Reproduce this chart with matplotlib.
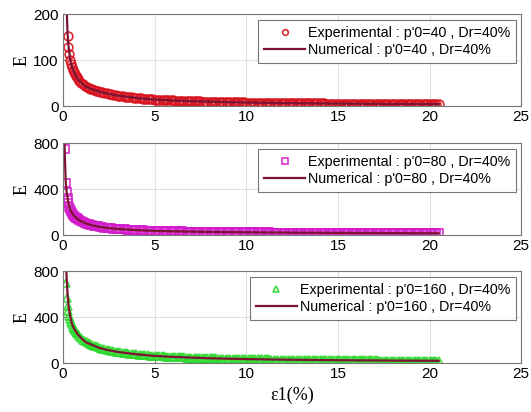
import matplotlib
matplotlib.use("Agg")
import matplotlib.pyplot as plt

# strain samples shared by every test beyond 2 %
strain_tail = [2.0, 2.125, 2.25, 2.375, 2.5, 2.625, 2.75, 2.875, 3.0, 3.125, 3.25, 3.375,
               3.5, 3.625, 3.75, 3.875, 4.0, 4.125, 4.25, 4.375, 4.5, 4.625, 4.75, 4.875,
               5.0, 5.125, 5.25, 5.375, 5.5, 5.625, 5.75, 5.875, 6.0, 6.125, 6.25, 6.375,
               6.5, 6.625, 6.75, 6.875, 7.0, 7.125, 7.25, 7.375, 7.5, 7.625, 7.75, 7.875,
               8.0, 8.125, 8.25, 8.375, 8.5, 8.625, 8.75, 8.875, 9.0, 9.125, 9.25, 9.375,
               9.5, 9.625, 9.75, 9.875, 10.0,
               10.125, 10.25, 10.375, 10.5, 10.625, 10.75, 10.875, 11.0, 11.125, 11.25,
               11.375, 11.5, 11.625, 11.75, 11.875, 12.0, 12.125, 12.25, 12.375, 12.5,
               12.625, 12.75, 12.875, 13.0, 13.125, 13.25, 13.375, 13.5, 13.625, 13.75,
               13.875, 14.0, 14.125, 14.25, 14.375, 14.5, 14.625, 14.75, 14.875, 15.0,
               15.125, 15.25, 15.375, 15.5, 15.625, 15.75, 15.875, 16.0, 16.125, 16.25,
               16.375, 16.5, 16.625, 16.75, 16.875, 17.0, 17.125, 17.25, 17.375, 17.5,
               17.625, 17.75, 17.875, 18.0, 18.125, 18.25, 18.375, 18.5, 18.625, 18.75,
               18.875, 19.0, 19.125, 19.25, 19.375, 19.5, 19.625, 19.75, 19.875, 20.0,
               20.125, 20.25, 20.375, 20.5]

# p'0 = 40
strain_exp_40 = [0.26, 0.3, 0.35, 0.4, 0.45, 0.5, 0.55, 0.6, 0.65, 0.7, 0.75, 0.8, 0.9,
                 1.0, 1.1, 1.2, 1.3, 1.4, 1.5, 1.6, 1.7, 1.8, 1.9] + strain_tail
E_exp_40 = [152, 128, 112, 100, 91, 84, 79, 74, 70, 66, 62.5, 59, 54,
            50, 47, 44, 41.5, 39.5, 37.5, 36, 34.5, 33, 32,
            31, 29.6, 28.4, 27.3, 26.2, 25.2, 24.3, 23.4, 22.6, 21.8, 21.1, 20.4,
            19.8, 19.2, 18.6, 18.0, 17.5, 17.0, 16.5, 16.0, 15.6, 15.2, 14.8, 14.4,
            14.0, 13.7, 13.4, 13.1, 12.9, 12.6, 12.4, 12.2, 12.0, 11.8, 11.6, 11.4,
            11.2, 11.0, 10.8, 10.6, 10.5, 10.3, 10.2, 10.0, 9.9, 9.7, 9.6, 9.4,
            9.3, 9.2, 9.1, 8.9, 8.8, 8.7, 8.6, 8.5, 8.4, 8.3, 8.2, 8.1,
            8.0, 7.9, 7.8, 7.7, 7.6,
            7.5, 7.4, 7.35, 7.3, 7.2, 7.1, 7.05, 7.0, 6.9, 6.8,
            6.75, 6.7, 6.65, 6.6, 6.5, 6.4, 6.35, 6.3, 6.25, 6.2,
            6.15, 6.1, 6.05, 6.0, 5.95, 5.9, 5.85, 5.8, 5.75, 5.7,
            5.65, 5.6, 5.55, 5.5, 5.45, 5.4, 5.38, 5.35, 5.32, 5.3,
            5.25, 5.2, 5.15, 5.1, 5.08, 5.05, 5.02, 5.0, 4.95, 4.9,
            4.88, 4.85, 4.82, 4.8, 4.75, 4.7, 4.68, 4.65, 4.62, 4.6,
            4.58, 4.55, 4.52, 4.5, 4.48, 4.45, 4.42, 4.4, 4.38, 4.35,
            4.32, 4.3, 4.28, 4.25, 4.22, 4.2, 4.18, 4.15, 4.12, 4.1,
            4.08, 4.05, 4.02, 4.0]
strain_num_40 = [0.2, 0.22, 0.25, 0.3, 0.4, 0.5, 0.6, 0.8, 1.0, 1.25, 1.5, 2, 2.5, 3,
                 4, 5, 6, 8, 10, 12, 14, 16, 18, 20, 20.5]
E_num_40 = [230, 190, 158, 130, 100, 84, 74, 59, 50, 42, 37.5, 31, 26.2, 22.6, 17.5, 14.0,
            12.0, 9.3, 7.6, 6.4, 5.6, 5.0, 4.5, 4.1, 4.0]

# p'0 = 80
strain_exp_80 = [0.1, 0.15, 0.2, 0.25, 0.3, 0.35, 0.4, 0.45, 0.5, 0.55, 0.6, 0.65, 0.7,
                 0.75, 0.8, 0.9, 1.0, 1.1, 1.2, 1.3, 1.4, 1.5, 1.6, 1.7, 1.8,
                 1.9] + strain_tail
E_exp_80 = [748, 452, 374, 322, 275, 245, 222, 205, 190, 178, 168, 159, 151,
            144, 138, 128, 119, 111, 104, 98, 93, 88, 84, 80, 77,
            74,
            71, 68, 65, 62.4, 60, 58, 56, 54.2, 52.5, 51, 49.5, 48.2,
            47, 45.7, 44.5, 43.5, 42.5, 41.5, 40.5, 39.6, 38.8, 38, 37.2, 36.5,
            35.8, 35.2, 34.7, 34.2, 33.7, 33.2, 32.8, 32.4, 32.0, 31.6, 31.2, 30.8,
            30.5, 30.1, 29.8, 29.4, 29.1, 28.8, 28.5, 28.2, 27.9, 27.6, 27.4, 27.1,
            26.9, 26.6, 26.4, 26.1, 25.9, 25.7, 25.5, 25.2, 25.0, 24.8, 24.6, 24.4,
            24.2, 24.0, 23.9, 23.7, 23.5,
            23.3, 23.1, 22.9, 22.8, 22.6, 22.5, 22.3, 22.2, 22.0, 21.9,
            21.7, 21.6, 21.4, 21.3, 21.1, 21.0, 20.9, 20.8, 20.6, 20.5,
            20.4, 20.3, 20.1, 20.0, 19.9, 19.8, 19.7, 19.6, 19.5, 19.4,
            19.3, 19.2, 19.1, 19.0, 18.9, 18.8, 18.7, 18.6, 18.5, 18.4,
            18.3, 18.2, 18.1, 18.0, 17.9, 17.8, 17.75, 17.7, 17.6, 17.5,
            17.4, 17.3, 17.25, 17.2, 17.1, 17.0, 16.95, 16.9, 16.8, 16.7,
            16.65, 16.6, 16.5, 16.4, 16.35, 16.3, 16.25, 16.2, 16.1, 16.0,
            15.95, 15.9, 15.85, 15.8, 15.75, 15.7, 15.6, 15.5, 15.45, 15.4,
            15.35, 15.3, 15.25, 15.2]
strain_num_80 = [0.08, 0.1, 0.15, 0.2, 0.3, 0.4, 0.5, 0.6, 0.8, 1.0, 1.25, 1.5, 2, 2.5,
                 3, 4, 5, 6, 8, 10, 12, 14, 16, 18, 20, 20.5]
E_num_80 = [820, 700, 460, 370, 275, 222, 190, 168, 138, 119, 101, 88, 71, 60, 52.5,
            42.5, 35.8, 32, 26.9, 23.5, 21, 19.2, 17.7, 16.4, 15.4, 15.2]

# p'0 = 160
strain_exp_160 = [0.15, 0.2, 0.25, 0.3, 0.35, 0.4, 0.45, 0.5, 0.55, 0.6, 0.65, 0.7, 0.75,
                  0.8, 0.9, 1.0, 1.1, 1.2, 1.3, 1.4, 1.5, 1.6, 1.7, 1.8,
                  1.9] + strain_tail
E_exp_160 = [696, 565, 500, 450, 410, 380, 356, 335, 316, 300, 285, 272, 260,
             250, 232, 216, 203, 191, 181, 172, 164, 157, 150, 144,
             139,
             130, 125, 120, 115.5, 111, 107, 103, 99.5, 96, 93, 90, 87.5,
             85, 82.5, 80, 78, 76, 74, 72, 70.2, 68.5, 66.7, 65, 63.5,
             62, 60.7, 59.5, 58.3, 57.2, 56.1, 55, 54, 53, 52.1, 51.2, 50.3,
             49.5, 48.7, 47.9, 47.1, 46.4, 45.7, 45, 44.3, 43.7, 43.1, 42.5, 41.9,
             41.3, 40.7, 40.2, 39.7, 39.2, 38.7, 38.2, 37.7, 37.3, 36.8, 36.4, 36.0,
             35.6, 35.2, 34.8, 34.4, 34.0,
             33.6, 33.3, 32.9, 32.6, 32.3, 32.0, 31.6, 31.3, 31.0, 30.7,
             30.4, 30.2, 29.9, 29.6, 29.3, 29.1, 28.8, 28.6, 28.3, 28.1,
             27.9, 27.7, 27.4, 27.2, 27.0, 26.8, 26.6, 26.4, 26.2, 26.0,
             25.8, 25.6, 25.4, 25.3, 25.1, 24.9, 24.7, 24.6, 24.4, 24.3,
             24.1, 24.0, 23.8, 23.7, 23.5, 23.4, 23.2, 23.1, 22.9, 22.8,
             22.7, 22.6, 22.4, 22.3, 22.2, 22.1, 21.9, 21.8, 21.7, 21.6,
             21.5, 21.4, 21.2, 21.1, 21.0, 20.9, 20.8, 20.7, 20.6, 20.5,
             20.4, 20.3, 20.2, 20.1, 20.0, 19.9, 19.8, 19.7, 19.6, 19.5,
             19.45, 19.4, 19.3, 19.2]
strain_num_160 = [0.18, 0.2, 0.25, 0.3, 0.4, 0.5, 0.6, 0.8, 1.0, 1.25, 1.5, 2, 2.5, 3,
                  4, 5, 6, 8, 10, 12, 14, 16, 18, 20, 20.5]
E_num_160 = [820, 740, 600, 500, 400, 335, 300, 250, 216, 180, 164, 130, 111, 96, 76,
             62, 53, 41.3, 34, 29.1, 25.6, 23.1, 21.1, 19.5, 19.2]

pressures = ["40", "80", "160"]
x_ticks = [0, 5, 10, 15, 20, 25]
y_ticks = [[0, 100, 200], [0, 400, 800], [0, 400, 800]]

panels = [
    (strain_exp_40, E_exp_40, strain_num_40, E_num_40, "o", "#d8141e"),
    (strain_exp_80, E_exp_80, strain_num_80, E_num_80, "s", "#d21ccc"),
    (strain_exp_160, E_exp_160, strain_num_160, E_num_160, "^", "#2ed82e"),
]

plt.rcParams["font.family"] = ["Liberation Sans", "DejaVu Sans"]

fig = plt.figure(figsize=(5.31, 4.12), dpi=100)
bottoms = [0.7427, 0.4296, 0.1189]
line_color = "#7d1232"

for i, (xe, ye, xn, yn, mk, col) in enumerate(panels):
    ax = fig.add_axes([0.1186, bottoms[i], 0.863, 0.2233])
    p = pressures[i]
    ax.plot(xe, ye, linestyle="none", marker=mk, markersize=6.3, markerfacecolor="none",
            markeredgecolor=col, markeredgewidth=1.2, alpha=0.9,
            label="Experimental : p'0=%s , Dr=40%%" % p)
    ax.plot(xn, yn, color=line_color, linewidth=1.6,
            label="Numerical : p'0=%s , Dr=40%%" % p)
    ax.set_xlim(0, 25)
    ax.set_ylim(y_ticks[i][0], y_ticks[i][-1])
    ax.set_xticks(x_ticks)
    ax.set_yticks(y_ticks[i])
    ax.grid(True, color="#e0e0e0", linewidth=0.8)
    ax.set_axisbelow(True)
    ax.tick_params(direction="in", length=3, labelsize=11, color="#777777", pad=3)
    for s in ax.spines.values():
        s.set_color("#777777")
        s.set_linewidth(0.8)
    ax.set_ylabel("E", family="Liberation Serif", fontsize=13, labelpad=2)
    leg = ax.legend(loc="upper right", bbox_to_anchor=(0.989, 0.935), fontsize=10.3,
                    frameon=True, fancybox=False, edgecolor="#555555",
                    handlelength=2.9, handletextpad=0.2, borderpad=0.4,
                    labelspacing=0.22, borderaxespad=0.0, markerscale=0.65)
    leg.get_frame().set_linewidth(0.8)
    if i == 2:
        ax.set_xlabel("\u03b51(%)", family="Liberation Serif", fontsize=13, labelpad=4)

fig.savefig("out.png", dpi=100)
